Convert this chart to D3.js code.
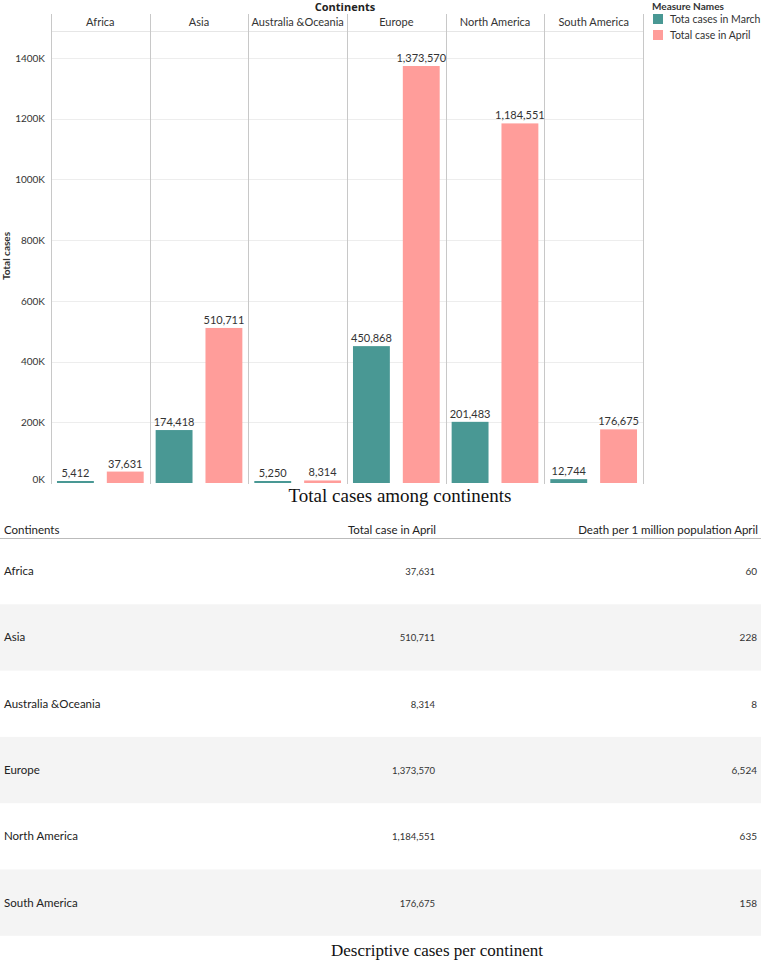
<!DOCTYPE html>
<html><head><meta charset="utf-8">
<script src="https://cdn.jsdelivr.net/npm/d3@7"></script>
<style>
html,body{margin:0;padding:0;background:#fff;}
svg{display:block;}
</style>
</head><body>
<svg id="c" width="761" height="963"></svg>
<script>
const continents = ["Africa","Asia","Australia &Oceania","Europe","North America","South America"];
const tableLabels = ["Africa","Asia","Australia &Oceania","Europe","North America","South America"];
const measures = ["Tota cases in March","Total case in April"];
const marchCases = [5412,174418,5250,450868,201483,12744];
const aprilCases = [37631,510711,8314,1373570,1184551,176675];
const deathsPerMillion = [60,228,8,6524,635,158];
const yTicks = [0,200000,400000,600000,800000,1000000,1200000,1400000];
const colors = ["#499894","#FF9D9A"];

const svg = d3.select("#c");
const font = "Lato, 'Open Sans', sans-serif";
const fmt = d3.format(",");

// scales
const x = d3.scaleBand().domain(continents).range([51,643]).padding(0);
const xi = d3.scaleBand().domain(measures).range([0,x.bandwidth()]).paddingInner(0.26).paddingOuter(0.12);
const y = d3.scaleLinear().domain([0,1400000]).range([483,58]);

// title
svg.append("text").attr("x",345).attr("y",11).attr("text-anchor","middle")
  .attr("font-family","'Open Sans', sans-serif").attr("font-weight","bold").attr("font-size",11).attr("fill","#222").text("Continents");

// grid
const g = svg.append("g");
g.selectAll("line.grid").data(yTicks.slice(1)).join("line")
  .attr("x1",51).attr("x2",643).attr("y1",d=>Math.round(y(d))+0.5).attr("y2",d=>Math.round(y(d))+0.5)
  .attr("stroke","#ededed").attr("stroke-width",1);

// header separator line
svg.append("line").attr("x1",51).attr("x2",643).attr("y1",31.5).attr("y2",31.5).attr("stroke","#e6e6e6");

// panel lines
const bounds = continents.map(c=>x(c)).concat([643]);
svg.selectAll("line.panel").data(bounds).join("line")
  .attr("x1",d=>Math.round(d)+0.5).attr("x2",d=>Math.round(d)+0.5).attr("y1",14).attr("y2",484)
  .attr("stroke","#c8c8c8").attr("stroke-width",1);

// panel headers
svg.selectAll("text.hdr").data(continents).join("text")
  .attr("x",d=>x(d)+x.bandwidth()/2).attr("y",26).attr("text-anchor","middle")
  .attr("font-family",font).attr("font-size",11).attr("fill","#333").text(d=>d);

// y axis
const yAxis = d3.axisLeft(y).tickValues(yTicks).tickFormat(d=>(d/1000)+"K").tickSize(0).tickPadding(6);
const ya = svg.append("g").attr("transform","translate(51,0)").call(yAxis);
ya.select(".domain").remove();
ya.selectAll("text").attr("font-family",font).attr("font-size",10).attr("fill","#333");
ya.selectAll(".tick").filter(d=>d===0).select("text").attr("dy","-0.1em");

svg.append("text").attr("transform","translate(10,256) rotate(-90)").attr("text-anchor","middle")
  .attr("font-family",font).attr("font-weight","bold").attr("font-size",10).attr("fill","#333").text("Total cases");

// bars
const rows = continents.map((c,i)=>({c, vals:[marchCases[i],aprilCases[i]]}));
const bars = svg.append("g");
rows.forEach(r=>{
  r.vals.forEach((v,j)=>{
    const m = measures[j];
    const bx = x(r.c)+xi(m);
    const top = Math.min(y(v), 481);
    bars.append("rect").attr("x",bx).attr("y",top).attr("width",xi.bandwidth()).attr("height",483-top)
      .attr("fill",colors[j]);
    bars.append("text").attr("x",bx+xi.bandwidth()/2).attr("y",top-4).attr("text-anchor","middle")
      .attr("font-family",font).attr("font-size",11).attr("fill","#333").text(fmt(v));
  });
});

// legend
svg.append("text").attr("x",652).attr("y",10).attr("font-family",font).attr("font-weight","bold")
  .attr("font-size",10).attr("fill","#333").text("Measure Names");
measures.forEach((m,i)=>{
  svg.append("rect").attr("x",653).attr("y",14+i*16).attr("width",10).attr("height",10).attr("fill",colors[i]);
  svg.append("text").attr("x",670).attr("y",23+i*16).attr("font-family",font).attr("font-size",10.5)
    .attr("fill","#333").text(m);
});

// caption 1
svg.append("text").attr("x",400).attr("y",502).attr("text-anchor","middle")
  .attr("font-family","'Liberation Serif', 'Times New Roman', serif").attr("font-size",19).attr("fill","#111")
  .text("Total cases among continents");

// table
const tblTop = 538, rowH = 66.3;
const tbl = svg.append("g");
tableLabels.forEach((c,i)=>{
  const ry = tblTop + i*rowH;
  if(i%2===1) tbl.append("rect").attr("x",0).attr("y",ry).attr("width",761).attr("height",rowH).attr("fill","#f4f4f4");
});
tbl.append("line").attr("x1",0).attr("x2",761).attr("y1",tblTop+0.5).attr("y2",tblTop+0.5).attr("stroke","#bbb");
const hdrs = [["Continents",4,"start"],["Total case in April",436,"end"],["Death per 1 million population April",758,"end"]];
hdrs.forEach(h=>{
  tbl.append("text").attr("x",h[1]).attr("y",534).attr("text-anchor",h[2]).attr("font-family",font)
    .attr("font-size",11.5).attr("fill","#222").text(h[0]);
});
tableLabels.forEach((c,i)=>{
  const cy = tblTop + i*rowH + rowH/2 + 4;
  tbl.append("text").attr("x",4).attr("y",cy).attr("font-family",font).attr("font-size",11.5).attr("fill","#222").text(c);
  tbl.append("text").attr("x",435).attr("y",cy).attr("text-anchor","end").attr("font-family",font).attr("font-size",9.5).attr("fill","#333").text(fmt(aprilCases[i]));
  tbl.append("text").attr("x",757).attr("y",cy).attr("text-anchor","end").attr("font-family",font).attr("font-size",10).attr("fill","#333").text(fmt(deathsPerMillion[i]));
});

svg.append("text").attr("x",437).attr("y",956).attr("text-anchor","middle")
  .attr("font-family","'Liberation Serif', 'Times New Roman', serif").attr("font-size",17).attr("fill","#111")
  .text("Descriptive cases per continent");
</script>
</body></html>
